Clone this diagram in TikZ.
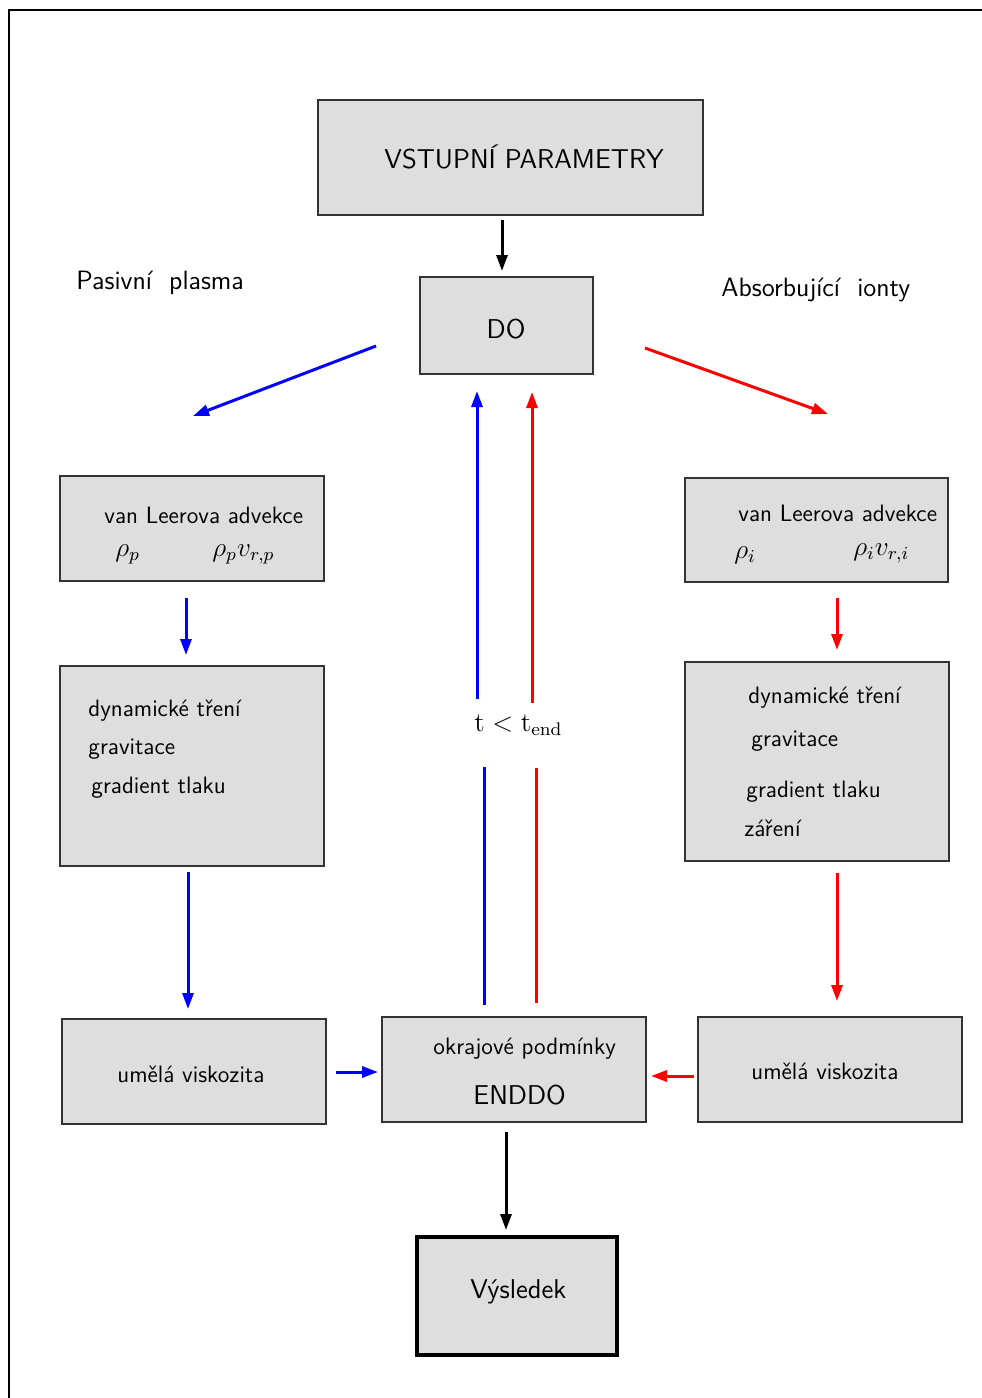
\documentclass[tikz,border=0pt]{standalone}
\usetikzlibrary{arrows.meta}
\definecolor{boxgray}{HTML}{DEDEDE}
\definecolor{boxline}{HTML}{333333}
\newcommand{\bigmath}[1]{\scalebox{1.14}{$#1$}}
\tikzset{
  box/.style={draw=boxline, line width=0.6pt, fill=boxgray},
  resbox/.style={draw=black, line width=1.7pt, fill=boxgray},
  txt/.style={anchor=base west, inner sep=0pt, font=\sffamily\fontsize{11.85}{14}\selectfont},
  bigtxt/.style={anchor=base west, inner sep=0pt, font=\sffamily\fontsize{13.6}{16}\selectfont},
  lbltxt/.style={anchor=base west, inner sep=0pt, font=\sffamily\fontsize{13.25}{16}\selectfont},
  mtxt/.style={anchor=base west, inner sep=0pt, font=\fontsize{12}{14}\selectfont},
  arr/.style={line width=1.5pt, -{Triangle[length=8pt,width=5.5pt]}},
  plain/.style={line width=1.5pt},
}
\begin{document}
\begin{tikzpicture}[x=0.5pt,y=-0.5pt]
\useasboundingbox (0,0) rectangle (981,1398);
% frame
\draw[line width=0.6pt] (9,1400) -- (9,10) -- (985,10);

% boxes
\draw[box] (318,100) rectangle (703,215);
\node[bigtxt] (vstup) at (384,168) {VSTUPNÍ PARAMETRY};
\draw[box] (420,277) rectangle (593,374);
\node[bigtxt, anchor=base] (do) at (506,338) {DO};

\node[lbltxt] (pasiv) at (76,289) {Pasivní\ \ plasma};
\node[lbltxt] (absorb) at (721,296) {Absorbující\ \ ionty};

\draw[box] (60,476) rectangle (324,581);
\node[txt] (vlL) at (104,523) {van Leerova advekce};
\node[mtxt] (rpL) at (115,556) {\bigmath{\rho_p}};
\node[mtxt] (rpvL) at (212,556) {\bigmath{\rho_p v_{r,p}}};

\draw[box] (685,478) rectangle (948,582);
\node[txt] (vlR) at (738,521) {van Leerova advekce};
\node[mtxt] (riR) at (734,558) {\bigmath{\rho_i}};
\node[mtxt] (rivR) at (853,555) {\bigmath{\rho_i v_{r,i}}};

\draw[box] (60,666) rectangle (324,866);
\node[txt] (dynL) at (88,716) {dynamické tření};
\node[txt] (gravL) at (88,754) {gravitace};
\node[txt] (gradL) at (91,793) {gradient tlaku};

\draw[box] (685,662) rectangle (949,861);
\node[txt] (dynR) at (748,703) {dynamické tření};
\node[txt] (gravR) at (751,746) {gravitace};
\node[txt] (gradR) at (746,797) {gradient tlaku};
\node[txt] (zarR) at (744,836) {záření};

\draw[box] (62,1019) rectangle (326,1124);
\node[txt] (umL) at (117,1082) {umělá viskozita};
\draw[box] (382,1017) rectangle (646,1122);
\node[txt] (okr) at (433,1054) {okrajové podmínky};
\node[bigtxt] (enddo) at (473,1104) {ENDDO};
\draw[box] (698,1017) rectangle (962,1122);
\node[txt] (umR) at (751,1079) {umělá viskozita};

\draw[resbox] (417,1237) rectangle (617,1355);
\node[bigtxt] (vys) at (470,1298) {Výsledek};

\node[mtxt] (tcond) at (474,731) {\bigmath{\mathrm{t} < \mathrm{t}_{\mathrm{end}}}};

% connector coordinates
\coordinate (a1s) at (502,220); \coordinate (a1e) at (502,271);
\coordinate (bls) at (376,346); \coordinate (ble) at (193,416);
\coordinate (rds) at (645,348); \coordinate (rde) at (828,414);
\coordinate (b2s) at (186,598); \coordinate (b2e) at (186,655);
\coordinate (r2s) at (837,598); \coordinate (r2e) at (837,650);
\coordinate (b3s) at (188,872); \coordinate (b3e) at (188,1009);
\coordinate (r3s) at (837,873); \coordinate (r3e) at (837,1001);
\coordinate (b4s) at (336,1072); \coordinate (b4e) at (378,1072);
\coordinate (r4s) at (694,1076); \coordinate (r4e) at (651,1076);
\coordinate (k2s) at (506,1132); \coordinate (k2e) at (506,1230);
\coordinate (vb1s) at (484,1005); \coordinate (vb1e) at (484,767);
\coordinate (vb2s) at (477,699); \coordinate (vb2e) at (477,391);
\coordinate (vr1s) at (536,1003); \coordinate (vr1e) at (536,768);
\coordinate (vr2s) at (532,703); \coordinate (vr2e) at (532,392);

\draw[arr] (a1s) -- (a1e);
\draw[arr, blue] (bls) -- (ble);
\draw[arr, red] (rds) -- (rde);
\draw[arr, blue] (b2s) -- (b2e);
\draw[arr, red] (r2s) -- (r2e);
\draw[arr, blue] (b3s) -- (b3e);
\draw[arr, red] (r3s) -- (r3e);
\draw[arr, blue] (b4s) -- (b4e);
\draw[arr, red] (r4s) -- (r4e);
\draw[arr] (k2s) -- (k2e);
\draw[plain, blue] (vb1s) -- (vb1e);
\draw[arr, blue] (vb2s) -- (vb2e);
\draw[plain, red] (vr1s) -- (vr1e);
\draw[arr, red] (vr2s) -- (vr2e);
\end{tikzpicture}
\end{document}
